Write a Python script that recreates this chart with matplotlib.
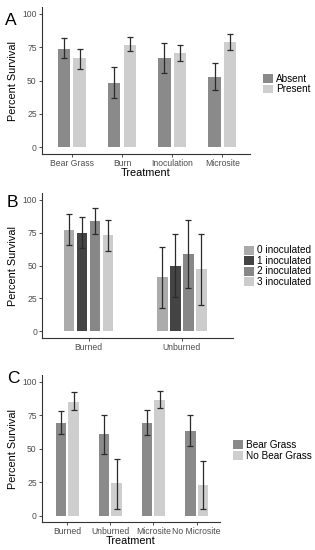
import numpy as np
import matplotlib
matplotlib.use("Agg")
import matplotlib.pyplot as plt

plt.rcParams['font.family'] = ['Liberation Sans', 'DejaVu Sans']

# panel A
a_cats = ["Bear Grass", "Burn", "Inoculation", "Microsite"]
a_absent = [74, 48, 67, 53]
a_absent_lo = [67, 37, 56, 43]
a_absent_hi = [82, 60, 78, 63]
a_present = [67, 77, 71, 79]
a_present_lo = [59, 72, 65, 73]
a_present_hi = [74, 83, 77, 85]

# panel B
b_cats = ["Burned", "Unburned"]
b_labels = ["0 inoculated", "1 inoculated", "2 inoculated", "3 inoculated"]
b_vals = [[77, 41], [75, 50], [84, 59], [73, 47]]
b_lo = [[66, 18], [63, 26], [74, 33], [61, 20]]
b_hi = [[89, 64], [87, 74], [94, 85], [85, 74]]

# panel C
c_cats = ["Burned", "Unburned", "Microsite", "No Microsite"]
c_bg = [69, 61, 69, 63]
c_bg_lo = [61, 46, 60, 52]
c_bg_hi = [78, 75, 79, 75]
c_nobg = [85, 24, 86, 23]
c_nobg_lo = [79, 5, 80, 5]
c_nobg_hi = [92, 42, 93, 41]

dark = "#8a8a8a"
light = "#cecece"
b_colors = ["#ababab", "#444444", "#878787", "#cccccc"]
tick_col = "#4d4d4d"
err_col = "#2b2b2b"

fig = plt.figure(figsize=(3.15, 5.5), dpi=100)


def style(ax, cats, xlim):
    ax.set_ylim(-5, 105)
    ax.set_xlim(*xlim)
    ax.set_yticks([0, 25, 50, 75, 100])
    ax.set_xticks(np.arange(1, len(cats) + 1))
    ax.set_xticklabels(cats)
    for s in ["top", "right"]:
        ax.spines[s].set_visible(False)
    for s in ["left", "bottom"]:
        ax.spines[s].set_color("#333333")
        ax.spines[s].set_linewidth(0.8)
    ax.tick_params(labelsize=6.2, colors=tick_col, length=2, width=0.6, pad=1.5)
    ax.tick_params(axis="both", color="#333333")
    ax.set_ylabel("Percent Survival", fontsize=7.8)
    # label centre at about 18 px from the left edge
    w = ax.get_position().width * 315
    ax.yaxis.set_label_coords((18 - 41.7) / w, 0.5)


def bars(ax, x, vals, lo, hi, w, color, label):
    vals = np.array(vals)
    yerr = [vals - np.array(lo), np.array(hi) - vals]
    ax.bar(x, vals, w, color=color, label=label)
    ax.errorbar(x, vals, yerr=yerr, fmt="none", ecolor=err_col,
                elinewidth=0.9, capsize=2.5, capthick=0.9)


def legend(ax, x, y):
    ax.legend(loc="center left", bbox_to_anchor=(x, y), bbox_transform=fig.transFigure,
              frameon=False, fontsize=7.2, handlelength=1.0, handleheight=1.0,
              handletextpad=0.25, labelspacing=0.05, borderpad=0)


# A
axA = fig.add_axes([0.132, 0.72, 0.662, 0.267])
xa = np.arange(1, 5)
bars(axA, xa - 0.156, a_absent, a_absent_lo, a_absent_hi, 0.245, dark, "Absent")
bars(axA, xa + 0.156, a_present, a_present_lo, a_present_hi, 0.245, light, "Present")
style(axA, a_cats, (0.4, 4.55))
axA.set_xlabel("Treatment", fontsize=7.8, labelpad=0)
legend(axA, 0.82, 0.847)

# B
axB = fig.add_axes([0.133, 0.386, 0.607, 0.2625])
xb = np.arange(1, 3)
offs = [-0.21, -0.07, 0.07, 0.21]
for i in range(4):
    bars(axB, xb + offs[i], b_vals[i], b_lo[i], b_hi[i], 0.114, b_colors[i], b_labels[i])
style(axB, b_cats, (0.5, 2.55))
legend(axB, 0.76, 0.516)

# C
axC = fig.add_axes([0.132, 0.0504, 0.566, 0.268])
xc = np.arange(1, 5)
bars(axC, xc - 0.147, c_bg, c_bg_lo, c_bg_hi, 0.247, dark, "Bear Grass")
bars(axC, xc + 0.147, c_nobg, c_nobg_lo, c_nobg_hi, 0.247, light, "No Bear Grass")
style(axC, c_cats, (0.406, 4.54))
axC.set_xlabel("Treatment", fontsize=7.8, labelpad=0)
legend(axC, 0.724, 0.181)

fig.text(0.015, 0.955, "A", fontsize=12.5)
fig.text(0.022, 0.624, "B", fontsize=12.5)
fig.text(0.022, 0.304, "C", fontsize=12.5)

fig.savefig("out.png", dpi=100)
